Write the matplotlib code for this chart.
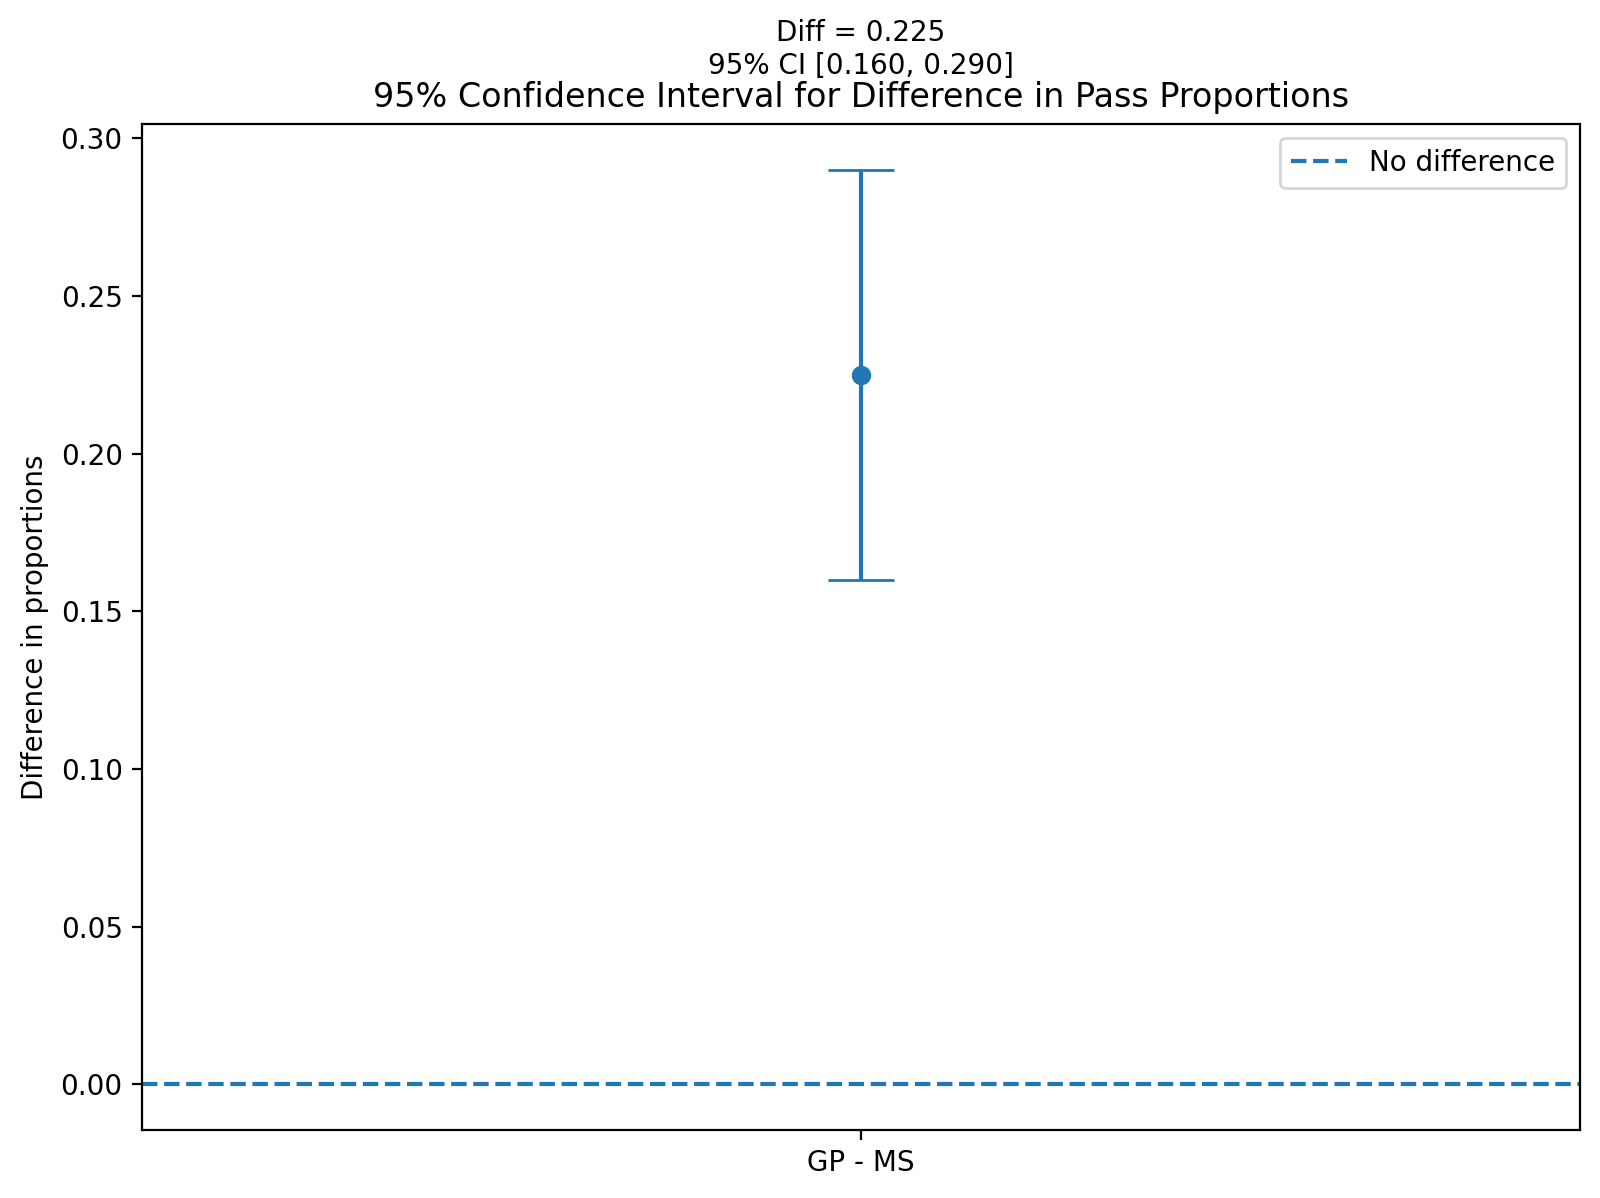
import matplotlib
matplotlib.use("Agg")
import matplotlib.pyplot as plt

# data
labels = ["GP - MS"]
diff = [0.225]
ci_low = [0.160]
ci_high = [0.290]

err_lo = [d - l for d, l in zip(diff, ci_low)]
err_hi = [h - d for d, h in zip(diff, ci_high)]

fig, ax = plt.subplots(figsize=(8, 5.99))
fig.subplots_adjust(left=0.0888, right=0.9875, top=0.8965, bottom=0.0568)
ax.errorbar(range(len(labels)), diff, yerr=[err_lo, err_hi], fmt='o', capsize=12)
ax.axhline(0, linestyle='--', label='No difference')
ax.set_xticks(range(len(labels)))
ax.set_xticklabels(labels)
ax.set_ylabel('Difference in proportions')
ax.set_title('95% Confidence Interval for Difference in Pass Proportions')
ax.annotate(f"Diff = {diff[0]:.3f}\n95% CI [{ci_low[0]:.3f}, {ci_high[0]:.3f}]",
            xy=(0.5, 1.0), xycoords='axes fraction', xytext=(0, 16),
            textcoords='offset points', ha='center', va='bottom', fontsize=10)
ax.legend()
plt.savefig('out.png', dpi=200)
